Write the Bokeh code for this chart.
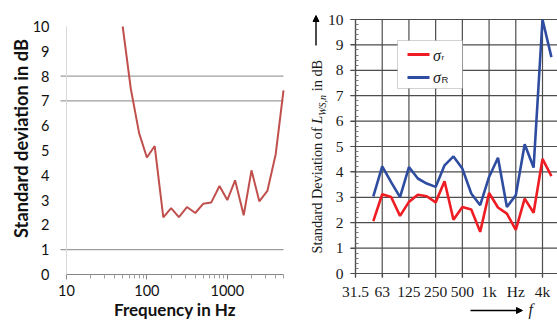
import math
from bokeh.plotting import figure
from bokeh.layouts import row
from bokeh.models import (FixedTicker, Label, Arrow, NormalHead, BoxAnnotation,
                          Range1d, BasicTickFormatter)
from bokeh.embed import file_html
from bokeh.resources import INLINE

# ---------------- data: left panel ----------------
left_freq = [50, 63, 80, 100, 125, 160, 200, 250, 315, 400, 500, 630, 800,
             1000, 1250, 1600, 2000, 2500, 3150, 4000, 5000]
left_sd = [10.0, 7.5, 5.7, 4.72, 5.18, 2.3, 2.68, 2.31, 2.72, 2.48, 2.85, 2.9,
           3.57, 3.0, 3.8, 2.39, 4.2, 2.95, 3.37, 4.85, 7.42]
left_yticks = [0, 1, 2, 3, 4, 5, 6, 7, 8, 9, 10]
left_gridlines = [1, 7, 8]
left_xticks = [10, 100, 1000]
left_xminor = [20, 30, 40, 50, 60, 70, 80, 90, 200, 300, 400, 500, 600, 700,
               800, 900, 2000, 3000, 4000, 5000]

# ---------------- data: right panel ----------------
bands = ["31.5", "40", "50", "63", "80", "100", "125", "160", "200", "250",
         "315", "400", "500", "630", "800", "1k", "1.25k", "1.6k", "2k",
         "2.5k", "3.15k", "4k", "5k"]
right_bands = ["50", "63", "80", "100", "125", "160", "200", "250", "315",
               "400", "500", "630", "800", "1k", "1.25k", "1.6k", "2k",
               "2.5k", "3.15k", "4k", "5k"]
sigma_r = [2.06, 3.12, 3.01, 2.27, 2.82, 3.1, 3.04, 2.8, 3.63, 2.12, 2.62,
           2.52, 1.64, 3.17, 2.6, 2.36, 1.72, 2.95, 2.39, 4.51, 3.83]
sigma_R = [3.04, 4.22, 3.6, 3.01, 4.19, 3.74, 3.54, 3.41, 4.26, 4.61, 4.13,
           3.15, 2.69, 3.8, 4.56, 2.62, 3.08, 5.09, 4.17, 10.0, 8.52]
right_tick_bands = ["31.5", "63", "125", "250", "500", "1k", "2k", "4k"]
right_tick_labels = ["31.5", "63", "125", "250", "500", "1k", "Hz", "4k"]
right_yticks = [0, 1, 2, 3, 4, 5, 6, 7, 8, 9, 10]

RED = "#ee1d23"
BLUE = "#2f4da0"
GRID_R = "#4d4d4d"
TXT = "#1a1a1a"
SERIF = "Liberation Serif"

PAGE_W, PAGE_H = 557, 320

# ================= LEFT FIGURE (frame = whole canvas) =================
L_W, L_H = 290, PAGE_H
LP_L, LP_R, LP_T, LP_B = 66, 283, 26, 274     # plot box, page px
LX0, LX1 = 10, 5000
LY0, LY1 = 0, 10
l_dec = (LP_R - LP_L) / math.log10(LX1 / LX0)
l_unit = (LP_B - LP_T) / (LY1 - LY0)

l_xr = Range1d(10 ** (math.log10(LX0) - LP_L / l_dec),
               10 ** (math.log10(LX1) + (L_W - LP_R) / l_dec))
l_yr = Range1d(LY0 - (L_H - LP_B) / l_unit, LY1 + LP_T / l_unit)


def lx(px):
    return 10 ** (math.log10(LX0) + (px - LP_L) / l_dec)


def ly(py):
    return LY0 + (LP_B - py) / l_unit


pl = figure(width=L_W, height=L_H, x_axis_type="log", x_range=l_xr, y_range=l_yr,
            output_backend="svg", toolbar_location=None,
            min_border_left=0, min_border_right=0, min_border_top=0, min_border_bottom=0)
pl.outline_line_color = None
pl.xgrid.visible = False
pl.ygrid.visible = False

pl.segment(x0=[lx(60)] * len(left_gridlines), x1=[LX1] * len(left_gridlines),
           y0=left_gridlines, y1=left_gridlines, line_color="#868686", line_width=1)
pl.line(left_freq, left_sd, line_color="#c0504d", line_width=2)

pl.yaxis.fixed_location = LX0
pl.yaxis.bounds = (LY0, LY1)
pl.yaxis.ticker = FixedTicker(ticks=left_yticks)
pl.yaxis.axis_line_color = "#d9d9d9"
pl.yaxis.major_tick_line_color = None
pl.yaxis.minor_tick_line_color = None
pl.yaxis.major_tick_out = 0
pl.yaxis.major_tick_in = 0
pl.yaxis.major_label_standoff = 17
pl.yaxis.major_label_text_font = "Lato"
pl.yaxis.major_label_text_font_size = "14.5px"
pl.yaxis.major_label_text_color = "#111111"

pl.xaxis.fixed_location = LY0
pl.xaxis.bounds = (LX0, LX1)
pl.xaxis.ticker = FixedTicker(ticks=left_xticks, minor_ticks=left_xminor)
pl.xaxis.formatter = BasicTickFormatter(use_scientific=False)
pl.xaxis.axis_line_color = "#868686"
pl.xaxis.major_tick_line_color = "#868686"
pl.xaxis.minor_tick_line_color = "#a0a0a0"
pl.xaxis.major_tick_in = 0
pl.xaxis.major_tick_out = 5
pl.xaxis.minor_tick_in = 0
pl.xaxis.minor_tick_out = 4
pl.xaxis.major_label_standoff = 5
pl.xaxis.major_label_text_font = "Lato"
pl.xaxis.major_label_text_font_size = "14.5px"
pl.xaxis.major_label_text_color = "#111111"

pl.add_layout(Label(x=lx(20), y=ly(138), text="Standard deviation in dB",
                    angle=math.pi / 2, text_align="center", text_baseline="middle",
                    text_font="Lato", text_font_style="bold",
                    text_font_size="18.3px", text_color="#111111"))
pl.add_layout(Label(x=lx((LP_L + LP_R) / 2), y=ly(309), text="Frequency in Hz",
                    text_align="center", text_baseline="middle",
                    text_font="Lato", text_font_style="bold",
                    text_font_size="17px", text_color="#111111"))

# ================= RIGHT FIGURE (frame = whole canvas) =================
R_X0 = L_W
R_W, R_H = PAGE_W - L_W, PAGE_H
RP_L, RP_T, RP_B = 355, 19, 273
r_unit_x = 8.905
r_unit_y = (RP_B - RP_T) / 10.0

r_xr = Range1d(-(RP_L - R_X0) / r_unit_x, (PAGE_W - RP_L) / r_unit_x)
r_yr = Range1d(-(R_H - RP_B) / r_unit_y, 10 + RP_T / r_unit_y)
RX1 = r_xr.end


def rx(px):
    return (px - RP_L) / r_unit_x


def ry(py):
    return (RP_B - py) / r_unit_y


pr = figure(width=R_W, height=R_H, x_range=r_xr, y_range=r_yr,
            output_backend="svg", toolbar_location=None,
            min_border_left=0, min_border_right=0, min_border_top=0, min_border_bottom=0)
pr.outline_line_color = None
pr.xgrid.visible = False
pr.ygrid.visible = False

tick_idx = [bands.index(b) for b in right_tick_bands]
pr.segment(x0=[rx(350)] * len(right_yticks), x1=[RX1] * len(right_yticks),
           y0=right_yticks, y1=right_yticks, line_color=GRID_R, line_width=1.2)
pr.segment(x0=tick_idx, x1=tick_idx, y0=[ry(277)] * len(tick_idx),
           y1=[10] * len(tick_idx), line_color=GRID_R, line_width=1.2)

xs = [bands.index(b) for b in right_bands]
pr.line(xs, sigma_r, line_color=RED, line_width=2.6)
pr.line(xs, sigma_R, line_color=BLUE, line_width=2.6)

pr.yaxis.fixed_location = 0
pr.yaxis.bounds = (0, 10)
pr.yaxis.ticker = FixedTicker(ticks=right_yticks,
                              minor_ticks=[i / 5 for i in range(51) if i % 5])
pr.yaxis.axis_line_color = GRID_R
pr.yaxis.axis_line_width = 1.2
pr.yaxis.major_tick_line_color = GRID_R
pr.yaxis.major_tick_line_width = 1.2
pr.yaxis.major_tick_in = 0
pr.yaxis.major_tick_out = 5
pr.yaxis.minor_tick_line_color = "#777777"
pr.yaxis.minor_tick_in = 3
pr.yaxis.minor_tick_out = 0
pr.yaxis.major_label_standoff = 7

pr.xaxis.fixed_location = 0
pr.xaxis.bounds = (0, RX1)
pr.xaxis.ticker = FixedTicker(ticks=tick_idx)
pr.xaxis.major_label_overrides = {i: t for i, t in zip(tick_idx, right_tick_labels)}
pr.xaxis.axis_line_color = GRID_R
pr.xaxis.axis_line_width = 1.2
pr.xaxis.major_tick_line_color = GRID_R
pr.xaxis.major_tick_line_width = 1.2
pr.xaxis.major_tick_in = 0
pr.xaxis.major_tick_out = 4
pr.xaxis.minor_tick_line_color = None
pr.xaxis.major_label_standoff = 5

for ax in (pr.xaxis, pr.yaxis):
    ax.major_label_text_font = SERIF
    ax.major_label_text_font_size = "15.5px"
    ax.major_label_text_color = TXT

# legend
pr.add_layout(BoxAnnotation(left=rx(397), right=rx(462), top=ry(40), bottom=ry(88),
                            fill_color="white", fill_alpha=1.0,
                            line_color="#6e6e6e", line_width=1))
pr.segment(x0=[rx(407), rx(407)], x1=[rx(429), rx(429)],
           y0=[ry(54), ry(77)], y1=[ry(54), ry(77)],
           line_color=[RED, BLUE], line_width=3, level="overlay")
for ym, sub, sfs, sym in ((54.5, "r", "8px", 57.0), (77.2, "R", "9.5px", 79.0)):
    pr.add_layout(Label(x=rx(432.5), y=ry(ym), text="σ", text_font=SERIF,
                        text_font_style="italic", text_font_size="16px",
                        text_baseline="middle", text_color=TXT, level="overlay"))
    pr.add_layout(Label(x=rx(441), y=ry(sym), text=sub, text_font="Liberation Sans",
                        text_font_size=sfs, text_baseline="middle",
                        text_color=TXT, level="overlay"))

# rotated y title: Standard Deviation of L_WS,n in dB
fs = 14.3
mid_x = 316.5
y0 = 253
pr.add_layout(Label(x=rx(mid_x), y=ry(y0), text="Standard Deviation of", angle=math.pi / 2,
                    text_align="left", text_baseline="middle", text_font=SERIF,
                    text_font_size=f"{fs}px", text_color=TXT))
yL = y0 - 9.08 * fs
pr.add_layout(Label(x=rx(mid_x), y=ry(yL), text="L", angle=math.pi / 2,
                    text_align="left", text_baseline="middle", text_font=SERIF,
                    text_font_style="italic", text_font_size=f"{fs}px", text_color=TXT))
ySub = yL - 0.556 * fs
pr.add_layout(Label(x=rx(mid_x + 5), y=ry(ySub), text="WS,n", angle=math.pi / 2,
                    text_align="left", text_baseline="middle", text_font=SERIF,
                    text_font_style="italic", text_font_size="10px", text_color=TXT))
yIn = ySub - 2.083 * 10 - 0.25 * fs
pr.add_layout(Label(x=rx(mid_x), y=ry(yIn), text="in dB", angle=math.pi / 2,
                    text_align="left", text_baseline="middle", text_font=SERIF,
                    text_font_size=f"{fs}px", text_color=TXT))
pr.add_layout(Arrow(x_start=rx(315.5), y_start=ry(45), x_end=rx(315.5), y_end=ry(15),
                    line_width=1.4, line_color="black",
                    end=NormalHead(size=6, fill_color="black", line_color="black")))
# frequency arrow and f
pr.add_layout(Arrow(x_start=rx(470), y_start=ry(310), x_end=rx(522), y_end=ry(310),
                    line_width=1.4, line_color="black",
                    end=NormalHead(size=6, fill_color="black", line_color="black")))
pr.add_layout(Label(x=rx(528), y=ry(308.5), text="f", text_font=SERIF,
                    text_font_style="italic", text_font_size="16px",
                    text_baseline="middle", text_color=TXT))

layout = row(pl, pr)
open("out.html", "w").write(file_html(layout, INLINE))
